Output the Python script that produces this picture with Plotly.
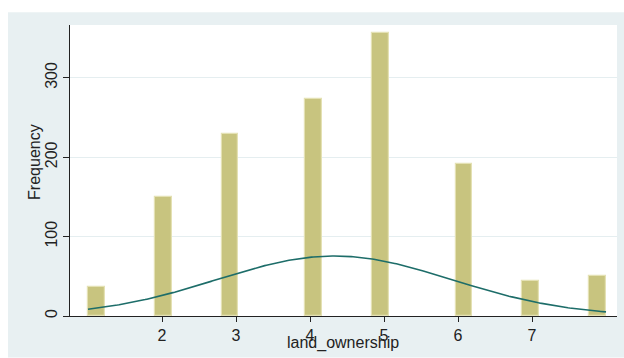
import numpy as np
import plotly.graph_objects as go

# Land ownership categories and their observed frequencies
categories = [1, 2, 3, 4, 5, 6, 7, 8]
frequency = [37, 150, 229, 273, 357, 191, 44, 51]

x_ticks = [2, 3, 4, 5, 6, 7]
y_ticks = [0, 100, 200, 300]

# Histogram binning: 31 equal-width bins spanning min..max
n_bins = 31
lo, hi = min(categories), max(categories)
bin_w = (hi - lo) / n_bins
bin_idx = [min(int((c - lo) / bin_w + 1e-9), n_bins - 1) for c in categories]
bar_x = [lo + (i + 0.5) * bin_w for i in bin_idx]

# Normal density overlay scaled to frequency units
vals = np.repeat(categories, frequency)
mu, sd = vals.mean(), vals.std(ddof=1)
n_obs = len(vals)
curve_x = np.linspace(lo, hi, 300)
curve_y = n_obs * bin_w * np.exp(-0.5 * ((curve_x - mu) / sd) ** 2) / (sd * np.sqrt(2 * np.pi))

W, H = 624, 358
ml, mr, mt, mb = 70, 7.3, 24.7, 41.5
pw, ph = W - ml - mr, H - mt - mb

def px(x):
    return (x - ml) / pw

def py(y):
    return (H - mb - y) / ph

fig = go.Figure()
fig.add_trace(go.Bar(
    x=bar_x, y=frequency, width=bin_w,
    marker=dict(color="#c8c47f", line=dict(color="#e4e1b4", width=1.2)),
    showlegend=False, hoverinfo="skip",
))
fig.add_trace(go.Scatter(
    x=curve_x, y=curve_y, mode="lines",
    line=dict(color="#1d6d69", width=1.6),
    showlegend=False, hoverinfo="skip",
))

font = dict(family="Liberation Sans, Arial, sans-serif", size=16, color="#222222")

fig.update_layout(
    width=W, height=H,
    margin=dict(l=ml, r=mr, t=mt, b=mb, pad=0),
    paper_bgcolor="white",
    plot_bgcolor="rgba(0,0,0,0)",
    font=font,
    bargap=0,
    xaxis=dict(
        range=[lo - (88 - ml) / 73.96, lo + (W - mr - 88) / 73.96],
        tickmode="array", tickvals=x_ticks, ticktext=[str(t) for t in x_ticks],
        ticks="outside", ticklen=5, tickcolor="#222222", tickwidth=1,
        showline=True, linecolor="#222222", linewidth=1,
        showgrid=False, zeroline=False, tickfont=font,
    ),
    yaxis=dict(
        range=[0, 366.6],
        tickmode="array", tickvals=y_ticks, ticktext=[str(t) for t in y_ticks],
        tickangle=-90,
        ticks="outside", ticklen=6, tickcolor="#222222", tickwidth=1,
        ticklabelstandoff=0,
        showline=True, linecolor="#222222", linewidth=1,
        showgrid=True, gridcolor="#e5eef0", gridwidth=1,
        zeroline=False, tickfont=font,
    ),
    shapes=[
        dict(type="rect", xref="paper", yref="paper", layer="below",
             x0=px(8), x1=px(W), y0=py(H), y1=py(12),
             fillcolor="#e8f0f2", line=dict(width=0)),
        dict(type="rect", xref="paper", yref="paper", layer="below",
             x0=0, x1=1, y0=0, y1=1,
             fillcolor="white", line=dict(width=0)),
    ],
    annotations=[
        dict(text="Frequency", xref="paper", yref="paper",
             x=px(35), y=py(162), textangle=-90, showarrow=False,
             xanchor="center", yanchor="middle", font=font),
        dict(text="land_ownership", xref="paper", yref="paper",
             x=px(342.5), y=py(344), showarrow=False,
             xanchor="center", yanchor="middle", font=font),
    ],
)

fig.write_html("out.html")
